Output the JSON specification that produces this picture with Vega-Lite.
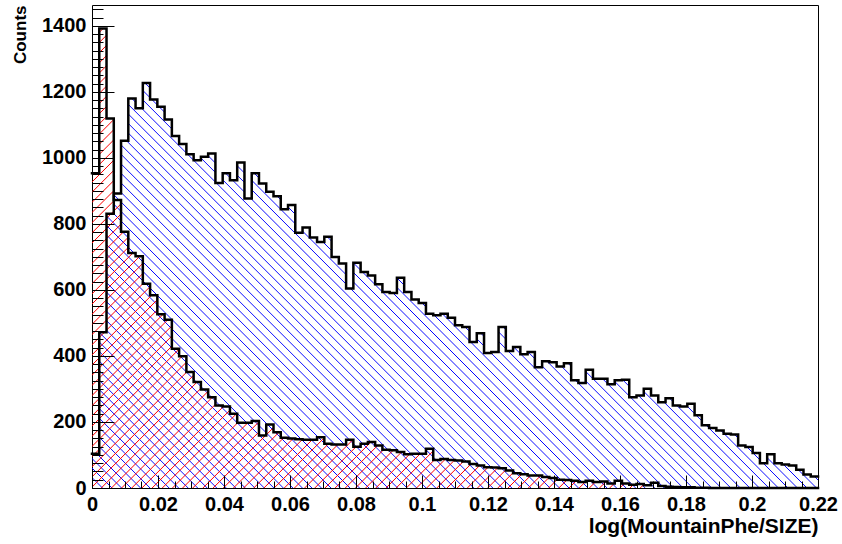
{
"$schema": "https://vega.github.io/schema/vega-lite/v6.json",
"width": 726, "height": 483,
"autosize": {"type": "none"},
"padding": {"left": 92, "top": 5, "right": 24, "bottom": 56},
"background": "white",
"config": {"view": {"stroke": "black", "strokeWidth": 1}},
"data": {"values": [
{"x":0,"blue":104,"red":953},{"x":0.0022,"blue":472,"red":1392},{"x":0.0044,"blue":831,"red":1119},{"x":0.0066,"blue":892,"red":872},{"x":0.0088,"blue":1052,"red":776},
{"x":0.011,"blue":1180,"red":712},{"x":0.0132,"blue":1150,"red":702},{"x":0.0154,"blue":1227,"red":619},{"x":0.0176,"blue":1177,"red":584},{"x":0.0198,"blue":1155,"red":526},
{"x":0.022,"blue":1116,"red":510},{"x":0.0242,"blue":1066,"red":422},{"x":0.0264,"blue":1042,"red":399},{"x":0.0286,"blue":1011,"red":351},{"x":0.0308,"blue":993,"red":321},
{"x":0.033,"blue":1003,"red":298},{"x":0.0352,"blue":1013,"red":275},{"x":0.0374,"blue":924,"red":250},{"x":0.0396,"blue":953,"red":247},{"x":0.0418,"blue":932,"red":225},
{"x":0.044,"blue":986,"red":198},{"x":0.0462,"blue":877,"red":198},{"x":0.0484,"blue":953,"red":203},{"x":0.0506,"blue":922,"red":159},{"x":0.0528,"blue":897,"red":192},
{"x":0.055,"blue":884,"red":169},{"x":0.0572,"blue":844,"red":152},{"x":0.0594,"blue":857,"red":150},{"x":0.0616,"blue":773,"red":148},{"x":0.0638,"blue":789,"red":146},
{"x":0.066,"blue":759,"red":146},{"x":0.0682,"blue":745,"red":154},{"x":0.0704,"blue":761,"red":134},{"x":0.0726,"blue":700,"red":132},{"x":0.0748,"blue":680,"red":132},
{"x":0.077,"blue":604,"red":146},{"x":0.0792,"blue":682,"red":125},{"x":0.0814,"blue":654,"red":134},{"x":0.0836,"blue":644,"red":139},{"x":0.0858,"blue":617,"red":129},
{"x":0.088,"blue":594,"red":116},{"x":0.0902,"blue":591,"red":114},{"x":0.0924,"blue":637,"red":109},{"x":0.0946,"blue":594,"red":102},{"x":0.0968,"blue":571,"red":104},
{"x":0.099,"blue":560,"red":104},{"x":0.1012,"blue":528,"red":119},{"x":0.1034,"blue":523,"red":85},{"x":0.1056,"blue":528,"red":88},{"x":0.1078,"blue":516,"red":85},
{"x":0.11,"blue":493,"red":83},{"x":0.1122,"blue":488,"red":80},{"x":0.1144,"blue":442,"red":73},{"x":0.1166,"blue":469,"red":68},{"x":0.1188,"blue":409,"red":63},
{"x":0.121,"blue":412,"red":62},{"x":0.1232,"blue":488,"red":60},{"x":0.1254,"blue":415,"red":53},{"x":0.1276,"blue":427,"red":45},{"x":0.1298,"blue":405,"red":42},
{"x":0.132,"blue":412,"red":38},{"x":0.1342,"blue":366,"red":38},{"x":0.1364,"blue":384,"red":33},{"x":0.1386,"blue":381,"red":30},{"x":0.1408,"blue":368,"red":25},
{"x":0.143,"blue":378,"red":24},{"x":0.1452,"blue":326,"red":22},{"x":0.1474,"blue":318,"red":18},{"x":0.1496,"blue":358,"red":22},{"x":0.1518,"blue":331,"red":18},
{"x":0.154,"blue":331,"red":20},{"x":0.1562,"blue":314,"red":14},{"x":0.1584,"blue":326,"red":22},{"x":0.1606,"blue":328,"red":14},{"x":0.1628,"blue":275,"red":10},
{"x":0.165,"blue":280,"red":12},{"x":0.1672,"blue":301,"red":8},{"x":0.1694,"blue":280,"red":16},{"x":0.1716,"blue":260,"red":6},{"x":0.1738,"blue":272,"red":4},
{"x":0.176,"blue":250,"red":3},{"x":0.1782,"blue":247,"red":2},{"x":0.1804,"blue":255,"red":2},{"x":0.1826,"blue":220,"red":1},{"x":0.1848,"blue":190,"red":1},
{"x":0.187,"blue":182,"red":0},{"x":0.1892,"blue":174,"red":0},{"x":0.1914,"blue":164,"red":0},{"x":0.1936,"blue":162,"red":0},{"x":0.1958,"blue":129,"red":0},
{"x":0.198,"blue":124,"red":0},{"x":0.2002,"blue":106,"red":0},{"x":0.2024,"blue":75,"red":0},{"x":0.2046,"blue":102,"red":0},{"x":0.2068,"blue":75,"red":0},
{"x":0.209,"blue":71,"red":0},{"x":0.2112,"blue":68,"red":0},{"x":0.2134,"blue":55,"red":0},{"x":0.2156,"blue":41,"red":0},{"x":0.2178,"blue":35,"red":0},
{"x":0.22,"blue":35,"red":0}
]},
"resolve": {"axis": {"x": "independent", "y": "independent"}},
"layer": [
{
"mark": {"type": "area", "interpolate": "step-after", "fill": {"gradient": "linear", "x1": 0, "y1": 1, "x2": 1, "y2": 0.442, "stops": [
{"offset":0,"color":"rgba(0,0,255,0)"},{"offset":0.001,"color":"#0000ff"},{"offset":0.002,"color":"rgba(0,0,255,0)"},
{"offset":0.01,"color":"rgba(0,0,255,0)"},{"offset":0.011,"color":"#0000ff"},{"offset":0.012,"color":"rgba(0,0,255,0)"},
{"offset":0.02,"color":"rgba(0,0,255,0)"},{"offset":0.021,"color":"#0000ff"},{"offset":0.022,"color":"rgba(0,0,255,0)"},
{"offset":0.03,"color":"rgba(0,0,255,0)"},{"offset":0.031,"color":"#0000ff"},{"offset":0.032,"color":"rgba(0,0,255,0)"},
{"offset":0.04,"color":"rgba(0,0,255,0)"},{"offset":0.041,"color":"#0000ff"},{"offset":0.042,"color":"rgba(0,0,255,0)"},
{"offset":0.05,"color":"rgba(0,0,255,0)"},{"offset":0.051,"color":"#0000ff"},{"offset":0.052,"color":"rgba(0,0,255,0)"},
{"offset":0.06,"color":"rgba(0,0,255,0)"},{"offset":0.061,"color":"#0000ff"},{"offset":0.062,"color":"rgba(0,0,255,0)"},
{"offset":0.07,"color":"rgba(0,0,255,0)"},{"offset":0.071,"color":"#0000ff"},{"offset":0.072,"color":"rgba(0,0,255,0)"},
{"offset":0.08,"color":"rgba(0,0,255,0)"},{"offset":0.081,"color":"#0000ff"},{"offset":0.082,"color":"rgba(0,0,255,0)"},
{"offset":0.09,"color":"rgba(0,0,255,0)"},{"offset":0.091,"color":"#0000ff"},{"offset":0.092,"color":"rgba(0,0,255,0)"},
{"offset":0.10,"color":"rgba(0,0,255,0)"},{"offset":0.101,"color":"#0000ff"},{"offset":0.102,"color":"rgba(0,0,255,0)"},
{"offset":0.11,"color":"rgba(0,0,255,0)"},{"offset":0.111,"color":"#0000ff"},{"offset":0.112,"color":"rgba(0,0,255,0)"},
{"offset":0.12,"color":"rgba(0,0,255,0)"},{"offset":0.121,"color":"#0000ff"},{"offset":0.122,"color":"rgba(0,0,255,0)"},
{"offset":0.13,"color":"rgba(0,0,255,0)"},{"offset":0.131,"color":"#0000ff"},{"offset":0.132,"color":"rgba(0,0,255,0)"},
{"offset":0.14,"color":"rgba(0,0,255,0)"},{"offset":0.141,"color":"#0000ff"},{"offset":0.142,"color":"rgba(0,0,255,0)"},
{"offset":0.15,"color":"rgba(0,0,255,0)"},{"offset":0.151,"color":"#0000ff"},{"offset":0.152,"color":"rgba(0,0,255,0)"},
{"offset":0.16,"color":"rgba(0,0,255,0)"},{"offset":0.161,"color":"#0000ff"},{"offset":0.162,"color":"rgba(0,0,255,0)"},
{"offset":0.17,"color":"rgba(0,0,255,0)"},{"offset":0.171,"color":"#0000ff"},{"offset":0.172,"color":"rgba(0,0,255,0)"},
{"offset":0.18,"color":"rgba(0,0,255,0)"},{"offset":0.181,"color":"#0000ff"},{"offset":0.182,"color":"rgba(0,0,255,0)"},
{"offset":0.19,"color":"rgba(0,0,255,0)"},{"offset":0.191,"color":"#0000ff"},{"offset":0.192,"color":"rgba(0,0,255,0)"},
{"offset":0.20,"color":"rgba(0,0,255,0)"},{"offset":0.201,"color":"#0000ff"},{"offset":0.202,"color":"rgba(0,0,255,0)"},
{"offset":0.21,"color":"rgba(0,0,255,0)"},{"offset":0.211,"color":"#0000ff"},{"offset":0.212,"color":"rgba(0,0,255,0)"},
{"offset":0.22,"color":"rgba(0,0,255,0)"},{"offset":0.221,"color":"#0000ff"},{"offset":0.222,"color":"rgba(0,0,255,0)"},
{"offset":0.23,"color":"rgba(0,0,255,0)"},{"offset":0.231,"color":"#0000ff"},{"offset":0.232,"color":"rgba(0,0,255,0)"},
{"offset":0.24,"color":"rgba(0,0,255,0)"},{"offset":0.241,"color":"#0000ff"},{"offset":0.242,"color":"rgba(0,0,255,0)"},
{"offset":0.25,"color":"rgba(0,0,255,0)"},{"offset":0.251,"color":"#0000ff"},{"offset":0.252,"color":"rgba(0,0,255,0)"},
{"offset":0.26,"color":"rgba(0,0,255,0)"},{"offset":0.261,"color":"#0000ff"},{"offset":0.262,"color":"rgba(0,0,255,0)"},
{"offset":0.27,"color":"rgba(0,0,255,0)"},{"offset":0.271,"color":"#0000ff"},{"offset":0.272,"color":"rgba(0,0,255,0)"},
{"offset":0.28,"color":"rgba(0,0,255,0)"},{"offset":0.281,"color":"#0000ff"},{"offset":0.282,"color":"rgba(0,0,255,0)"},
{"offset":0.29,"color":"rgba(0,0,255,0)"},{"offset":0.291,"color":"#0000ff"},{"offset":0.292,"color":"rgba(0,0,255,0)"},
{"offset":0.30,"color":"rgba(0,0,255,0)"},{"offset":0.301,"color":"#0000ff"},{"offset":0.302,"color":"rgba(0,0,255,0)"},
{"offset":0.31,"color":"rgba(0,0,255,0)"},{"offset":0.311,"color":"#0000ff"},{"offset":0.312,"color":"rgba(0,0,255,0)"},
{"offset":0.32,"color":"rgba(0,0,255,0)"},{"offset":0.321,"color":"#0000ff"},{"offset":0.322,"color":"rgba(0,0,255,0)"},
{"offset":0.33,"color":"rgba(0,0,255,0)"},{"offset":0.331,"color":"#0000ff"},{"offset":0.332,"color":"rgba(0,0,255,0)"},
{"offset":0.34,"color":"rgba(0,0,255,0)"},{"offset":0.341,"color":"#0000ff"},{"offset":0.342,"color":"rgba(0,0,255,0)"},
{"offset":0.35,"color":"rgba(0,0,255,0)"},{"offset":0.351,"color":"#0000ff"},{"offset":0.352,"color":"rgba(0,0,255,0)"},
{"offset":0.36,"color":"rgba(0,0,255,0)"},{"offset":0.361,"color":"#0000ff"},{"offset":0.362,"color":"rgba(0,0,255,0)"},
{"offset":0.37,"color":"rgba(0,0,255,0)"},{"offset":0.371,"color":"#0000ff"},{"offset":0.372,"color":"rgba(0,0,255,0)"},
{"offset":0.38,"color":"rgba(0,0,255,0)"},{"offset":0.381,"color":"#0000ff"},{"offset":0.382,"color":"rgba(0,0,255,0)"},
{"offset":0.39,"color":"rgba(0,0,255,0)"},{"offset":0.391,"color":"#0000ff"},{"offset":0.392,"color":"rgba(0,0,255,0)"},
{"offset":0.40,"color":"rgba(0,0,255,0)"},{"offset":0.401,"color":"#0000ff"},{"offset":0.402,"color":"rgba(0,0,255,0)"},
{"offset":0.41,"color":"rgba(0,0,255,0)"},{"offset":0.411,"color":"#0000ff"},{"offset":0.412,"color":"rgba(0,0,255,0)"},
{"offset":0.42,"color":"rgba(0,0,255,0)"},{"offset":0.421,"color":"#0000ff"},{"offset":0.422,"color":"rgba(0,0,255,0)"},
{"offset":0.43,"color":"rgba(0,0,255,0)"},{"offset":0.431,"color":"#0000ff"},{"offset":0.432,"color":"rgba(0,0,255,0)"},
{"offset":0.44,"color":"rgba(0,0,255,0)"},{"offset":0.441,"color":"#0000ff"},{"offset":0.442,"color":"rgba(0,0,255,0)"},
{"offset":0.45,"color":"rgba(0,0,255,0)"},{"offset":0.451,"color":"#0000ff"},{"offset":0.452,"color":"rgba(0,0,255,0)"},
{"offset":0.46,"color":"rgba(0,0,255,0)"},{"offset":0.461,"color":"#0000ff"},{"offset":0.462,"color":"rgba(0,0,255,0)"},
{"offset":0.47,"color":"rgba(0,0,255,0)"},{"offset":0.471,"color":"#0000ff"},{"offset":0.472,"color":"rgba(0,0,255,0)"},
{"offset":0.48,"color":"rgba(0,0,255,0)"},{"offset":0.481,"color":"#0000ff"},{"offset":0.482,"color":"rgba(0,0,255,0)"},
{"offset":0.49,"color":"rgba(0,0,255,0)"},{"offset":0.491,"color":"#0000ff"},{"offset":0.492,"color":"rgba(0,0,255,0)"},
{"offset":0.50,"color":"rgba(0,0,255,0)"},{"offset":0.501,"color":"#0000ff"},{"offset":0.502,"color":"rgba(0,0,255,0)"},
{"offset":0.51,"color":"rgba(0,0,255,0)"},{"offset":0.511,"color":"#0000ff"},{"offset":0.512,"color":"rgba(0,0,255,0)"},
{"offset":0.52,"color":"rgba(0,0,255,0)"},{"offset":0.521,"color":"#0000ff"},{"offset":0.522,"color":"rgba(0,0,255,0)"},
{"offset":0.53,"color":"rgba(0,0,255,0)"},{"offset":0.531,"color":"#0000ff"},{"offset":0.532,"color":"rgba(0,0,255,0)"},
{"offset":0.54,"color":"rgba(0,0,255,0)"},{"offset":0.541,"color":"#0000ff"},{"offset":0.542,"color":"rgba(0,0,255,0)"},
{"offset":0.55,"color":"rgba(0,0,255,0)"},{"offset":0.551,"color":"#0000ff"},{"offset":0.552,"color":"rgba(0,0,255,0)"},
{"offset":0.56,"color":"rgba(0,0,255,0)"},{"offset":0.561,"color":"#0000ff"},{"offset":0.562,"color":"rgba(0,0,255,0)"},
{"offset":0.57,"color":"rgba(0,0,255,0)"},{"offset":0.571,"color":"#0000ff"},{"offset":0.572,"color":"rgba(0,0,255,0)"},
{"offset":0.58,"color":"rgba(0,0,255,0)"},{"offset":0.581,"color":"#0000ff"},{"offset":0.582,"color":"rgba(0,0,255,0)"},
{"offset":0.59,"color":"rgba(0,0,255,0)"},{"offset":0.591,"color":"#0000ff"},{"offset":0.592,"color":"rgba(0,0,255,0)"},
{"offset":0.60,"color":"rgba(0,0,255,0)"},{"offset":0.601,"color":"#0000ff"},{"offset":0.602,"color":"rgba(0,0,255,0)"},
{"offset":0.61,"color":"rgba(0,0,255,0)"},{"offset":0.611,"color":"#0000ff"},{"offset":0.612,"color":"rgba(0,0,255,0)"},
{"offset":0.62,"color":"rgba(0,0,255,0)"},{"offset":0.621,"color":"#0000ff"},{"offset":0.622,"color":"rgba(0,0,255,0)"},
{"offset":0.63,"color":"rgba(0,0,255,0)"},{"offset":0.631,"color":"#0000ff"},{"offset":0.632,"color":"rgba(0,0,255,0)"},
{"offset":0.64,"color":"rgba(0,0,255,0)"},{"offset":0.641,"color":"#0000ff"},{"offset":0.642,"color":"rgba(0,0,255,0)"},
{"offset":0.65,"color":"rgba(0,0,255,0)"},{"offset":0.651,"color":"#0000ff"},{"offset":0.652,"color":"rgba(0,0,255,0)"},
{"offset":0.66,"color":"rgba(0,0,255,0)"},{"offset":0.661,"color":"#0000ff"},{"offset":0.662,"color":"rgba(0,0,255,0)"},
{"offset":0.67,"color":"rgba(0,0,255,0)"},{"offset":0.671,"color":"#0000ff"},{"offset":0.672,"color":"rgba(0,0,255,0)"},
{"offset":0.68,"color":"rgba(0,0,255,0)"},{"offset":0.681,"color":"#0000ff"},{"offset":0.682,"color":"rgba(0,0,255,0)"},
{"offset":0.69,"color":"rgba(0,0,255,0)"},{"offset":0.691,"color":"#0000ff"},{"offset":0.692,"color":"rgba(0,0,255,0)"},
{"offset":0.70,"color":"rgba(0,0,255,0)"},{"offset":0.701,"color":"#0000ff"},{"offset":0.702,"color":"rgba(0,0,255,0)"},
{"offset":0.71,"color":"rgba(0,0,255,0)"},{"offset":0.711,"color":"#0000ff"},{"offset":0.712,"color":"rgba(0,0,255,0)"},
{"offset":0.72,"color":"rgba(0,0,255,0)"},{"offset":0.721,"color":"#0000ff"},{"offset":0.722,"color":"rgba(0,0,255,0)"},
{"offset":0.73,"color":"rgba(0,0,255,0)"},{"offset":0.731,"color":"#0000ff"},{"offset":0.732,"color":"rgba(0,0,255,0)"},
{"offset":0.74,"color":"rgba(0,0,255,0)"},{"offset":0.741,"color":"#0000ff"},{"offset":0.742,"color":"rgba(0,0,255,0)"},
{"offset":0.75,"color":"rgba(0,0,255,0)"},{"offset":0.751,"color":"#0000ff"},{"offset":0.752,"color":"rgba(0,0,255,0)"},
{"offset":0.76,"color":"rgba(0,0,255,0)"},{"offset":0.761,"color":"#0000ff"},{"offset":0.762,"color":"rgba(0,0,255,0)"},
{"offset":0.77,"color":"rgba(0,0,255,0)"},{"offset":0.771,"color":"#0000ff"},{"offset":0.772,"color":"rgba(0,0,255,0)"},
{"offset":0.78,"color":"rgba(0,0,255,0)"},{"offset":0.781,"color":"#0000ff"},{"offset":0.782,"color":"rgba(0,0,255,0)"},
{"offset":0.79,"color":"rgba(0,0,255,0)"},{"offset":0.791,"color":"#0000ff"},{"offset":0.792,"color":"rgba(0,0,255,0)"}
]}},
"encoding": {
"x": {"field": "x", "type": "quantitative", "scale": {"domain": [0, 0.22], "nice": false, "zero": false},
 "axis": {"orient": "bottom", "values": [0,0.02,0.04,0.06,0.08,0.1,0.12,0.14,0.16,0.18,0.2,0.22], "format": "~g", "tickSize": -13, "tickColor": "black", "tickWidth": 1, "domain": false, "grid": false, "labelFont": "Liberation Sans", "labelFontWeight": "bold", "labelFontSize": 20, "labelColor": "black", "labelPadding": 19, "labelFlush": false, "labelOverlap": false, "labelBaseline": "top", "zindex": 1,
 "title": "log(MountainPhe/SIZE)", "titleFont": "Liberation Sans", "titleFontWeight": "bold", "titleFontSize": 21, "titleColor": "black", "titleX": 726, "titleY": 27, "titleAlign": "right", "titleBaseline": "top", "titleAnchor": null}},
"y": {"field": "blue", "type": "quantitative", "scale": {"domain": [0, 1463], "nice": false},
 "axis": {"orient": "left", "values": [0,200,400,600,800,1000,1200,1400], "format": "d", "tickSize": -22, "tickColor": "black", "tickWidth": 1, "domain": false, "grid": false, "labelFont": "Liberation Sans", "labelFontWeight": "bold", "labelFontSize": 20, "labelColor": "black", "labelPadding": 28, "labelOverlap": false, "labelFlush": false, "zindex": 1,
 "title": "Counts", "titleFont": "Liberation Sans", "titleFontWeight": "bold", "titleFontSize": 17, "titleColor": "black", "titleX": -72, "titleY": 0, "titleAngle": -90, "titleAlign": "right", "titleBaseline": "middle", "titleAnchor": null}}
}
},
{
"mark": {"type": "area", "interpolate": "step-after", "fill": {"gradient": "linear", "x1": 0, "y1": 0, "x2": 1, "y2": 0.633, "stops": [
{"offset":0,"color":"rgba(255,0,0,0)"},{"offset":0.001,"color":"#ff0000"},{"offset":0.002,"color":"rgba(255,0,0,0)"},
{"offset":0.01,"color":"rgba(255,0,0,0)"},{"offset":0.011,"color":"#ff0000"},{"offset":0.012,"color":"rgba(255,0,0,0)"},
{"offset":0.02,"color":"rgba(255,0,0,0)"},{"offset":0.021,"color":"#ff0000"},{"offset":0.022,"color":"rgba(255,0,0,0)"},
{"offset":0.03,"color":"rgba(255,0,0,0)"},{"offset":0.031,"color":"#ff0000"},{"offset":0.032,"color":"rgba(255,0,0,0)"},
{"offset":0.04,"color":"rgba(255,0,0,0)"},{"offset":0.041,"color":"#ff0000"},{"offset":0.042,"color":"rgba(255,0,0,0)"},
{"offset":0.05,"color":"rgba(255,0,0,0)"},{"offset":0.051,"color":"#ff0000"},{"offset":0.052,"color":"rgba(255,0,0,0)"},
{"offset":0.06,"color":"rgba(255,0,0,0)"},{"offset":0.061,"color":"#ff0000"},{"offset":0.062,"color":"rgba(255,0,0,0)"},
{"offset":0.07,"color":"rgba(255,0,0,0)"},{"offset":0.071,"color":"#ff0000"},{"offset":0.072,"color":"rgba(255,0,0,0)"},
{"offset":0.08,"color":"rgba(255,0,0,0)"},{"offset":0.081,"color":"#ff0000"},{"offset":0.082,"color":"rgba(255,0,0,0)"},
{"offset":0.09,"color":"rgba(255,0,0,0)"},{"offset":0.091,"color":"#ff0000"},{"offset":0.092,"color":"rgba(255,0,0,0)"},
{"offset":0.10,"color":"rgba(255,0,0,0)"},{"offset":0.101,"color":"#ff0000"},{"offset":0.102,"color":"rgba(255,0,0,0)"},
{"offset":0.11,"color":"rgba(255,0,0,0)"},{"offset":0.111,"color":"#ff0000"},{"offset":0.112,"color":"rgba(255,0,0,0)"},
{"offset":0.12,"color":"rgba(255,0,0,0)"},{"offset":0.121,"color":"#ff0000"},{"offset":0.122,"color":"rgba(255,0,0,0)"},
{"offset":0.13,"color":"rgba(255,0,0,0)"},{"offset":0.131,"color":"#ff0000"},{"offset":0.132,"color":"rgba(255,0,0,0)"},
{"offset":0.14,"color":"rgba(255,0,0,0)"},{"offset":0.141,"color":"#ff0000"},{"offset":0.142,"color":"rgba(255,0,0,0)"},
{"offset":0.15,"color":"rgba(255,0,0,0)"},{"offset":0.151,"color":"#ff0000"},{"offset":0.152,"color":"rgba(255,0,0,0)"},
{"offset":0.16,"color":"rgba(255,0,0,0)"},{"offset":0.161,"color":"#ff0000"},{"offset":0.162,"color":"rgba(255,0,0,0)"},
{"offset":0.17,"color":"rgba(255,0,0,0)"},{"offset":0.171,"color":"#ff0000"},{"offset":0.172,"color":"rgba(255,0,0,0)"},
{"offset":0.18,"color":"rgba(255,0,0,0)"},{"offset":0.181,"color":"#ff0000"},{"offset":0.182,"color":"rgba(255,0,0,0)"},
{"offset":0.19,"color":"rgba(255,0,0,0)"},{"offset":0.191,"color":"#ff0000"},{"offset":0.192,"color":"rgba(255,0,0,0)"},
{"offset":0.20,"color":"rgba(255,0,0,0)"},{"offset":0.201,"color":"#ff0000"},{"offset":0.202,"color":"rgba(255,0,0,0)"},
{"offset":0.21,"color":"rgba(255,0,0,0)"},{"offset":0.211,"color":"#ff0000"},{"offset":0.212,"color":"rgba(255,0,0,0)"},
{"offset":0.22,"color":"rgba(255,0,0,0)"},{"offset":0.221,"color":"#ff0000"},{"offset":0.222,"color":"rgba(255,0,0,0)"},
{"offset":0.23,"color":"rgba(255,0,0,0)"},{"offset":0.231,"color":"#ff0000"},{"offset":0.232,"color":"rgba(255,0,0,0)"},
{"offset":0.24,"color":"rgba(255,0,0,0)"},{"offset":0.241,"color":"#ff0000"},{"offset":0.242,"color":"rgba(255,0,0,0)"},
{"offset":0.25,"color":"rgba(255,0,0,0)"},{"offset":0.251,"color":"#ff0000"},{"offset":0.252,"color":"rgba(255,0,0,0)"},
{"offset":0.26,"color":"rgba(255,0,0,0)"},{"offset":0.261,"color":"#ff0000"},{"offset":0.262,"color":"rgba(255,0,0,0)"},
{"offset":0.27,"color":"rgba(255,0,0,0)"},{"offset":0.271,"color":"#ff0000"},{"offset":0.272,"color":"rgba(255,0,0,0)"},
{"offset":0.28,"color":"rgba(255,0,0,0)"},{"offset":0.281,"color":"#ff0000"},{"offset":0.282,"color":"rgba(255,0,0,0)"},
{"offset":0.29,"color":"rgba(255,0,0,0)"},{"offset":0.291,"color":"#ff0000"},{"offset":0.292,"color":"rgba(255,0,0,0)"},
{"offset":0.30,"color":"rgba(255,0,0,0)"},{"offset":0.301,"color":"#ff0000"},{"offset":0.302,"color":"rgba(255,0,0,0)"},
{"offset":0.31,"color":"rgba(255,0,0,0)"},{"offset":0.311,"color":"#ff0000"},{"offset":0.312,"color":"rgba(255,0,0,0)"},
{"offset":0.32,"color":"rgba(255,0,0,0)"},{"offset":0.321,"color":"#ff0000"},{"offset":0.322,"color":"rgba(255,0,0,0)"},
{"offset":0.33,"color":"rgba(255,0,0,0)"},{"offset":0.331,"color":"#ff0000"},{"offset":0.332,"color":"rgba(255,0,0,0)"},
{"offset":0.34,"color":"rgba(255,0,0,0)"},{"offset":0.341,"color":"#ff0000"},{"offset":0.342,"color":"rgba(255,0,0,0)"},
{"offset":0.35,"color":"rgba(255,0,0,0)"},{"offset":0.351,"color":"#ff0000"},{"offset":0.352,"color":"rgba(255,0,0,0)"},
{"offset":0.36,"color":"rgba(255,0,0,0)"},{"offset":0.361,"color":"#ff0000"},{"offset":0.362,"color":"rgba(255,0,0,0)"},
{"offset":0.37,"color":"rgba(255,0,0,0)"},{"offset":0.371,"color":"#ff0000"},{"offset":0.372,"color":"rgba(255,0,0,0)"},
{"offset":0.38,"color":"rgba(255,0,0,0)"},{"offset":0.381,"color":"#ff0000"},{"offset":0.382,"color":"rgba(255,0,0,0)"},
{"offset":0.39,"color":"rgba(255,0,0,0)"},{"offset":0.391,"color":"#ff0000"},{"offset":0.392,"color":"rgba(255,0,0,0)"},
{"offset":0.40,"color":"rgba(255,0,0,0)"},{"offset":0.401,"color":"#ff0000"},{"offset":0.402,"color":"rgba(255,0,0,0)"},
{"offset":0.41,"color":"rgba(255,0,0,0)"},{"offset":0.411,"color":"#ff0000"},{"offset":0.412,"color":"rgba(255,0,0,0)"},
{"offset":0.42,"color":"rgba(255,0,0,0)"},{"offset":0.421,"color":"#ff0000"},{"offset":0.422,"color":"rgba(255,0,0,0)"},
{"offset":0.43,"color":"rgba(255,0,0,0)"},{"offset":0.431,"color":"#ff0000"},{"offset":0.432,"color":"rgba(255,0,0,0)"},
{"offset":0.44,"color":"rgba(255,0,0,0)"},{"offset":0.441,"color":"#ff0000"},{"offset":0.442,"color":"rgba(255,0,0,0)"},
{"offset":0.45,"color":"rgba(255,0,0,0)"},{"offset":0.451,"color":"#ff0000"},{"offset":0.452,"color":"rgba(255,0,0,0)"},
{"offset":0.46,"color":"rgba(255,0,0,0)"},{"offset":0.461,"color":"#ff0000"},{"offset":0.462,"color":"rgba(255,0,0,0)"},
{"offset":0.47,"color":"rgba(255,0,0,0)"},{"offset":0.471,"color":"#ff0000"},{"offset":0.472,"color":"rgba(255,0,0,0)"},
{"offset":0.48,"color":"rgba(255,0,0,0)"},{"offset":0.481,"color":"#ff0000"},{"offset":0.482,"color":"rgba(255,0,0,0)"},
{"offset":0.49,"color":"rgba(255,0,0,0)"},{"offset":0.491,"color":"#ff0000"},{"offset":0.492,"color":"rgba(255,0,0,0)"},
{"offset":0.50,"color":"rgba(255,0,0,0)"},{"offset":0.501,"color":"#ff0000"},{"offset":0.502,"color":"rgba(255,0,0,0)"},
{"offset":0.51,"color":"rgba(255,0,0,0)"},{"offset":0.511,"color":"#ff0000"},{"offset":0.512,"color":"rgba(255,0,0,0)"},
{"offset":0.52,"color":"rgba(255,0,0,0)"},{"offset":0.521,"color":"#ff0000"},{"offset":0.522,"color":"rgba(255,0,0,0)"},
{"offset":0.53,"color":"rgba(255,0,0,0)"},{"offset":0.531,"color":"#ff0000"},{"offset":0.532,"color":"rgba(255,0,0,0)"},
{"offset":0.54,"color":"rgba(255,0,0,0)"},{"offset":0.541,"color":"#ff0000"},{"offset":0.542,"color":"rgba(255,0,0,0)"},
{"offset":0.55,"color":"rgba(255,0,0,0)"},{"offset":0.551,"color":"#ff0000"},{"offset":0.552,"color":"rgba(255,0,0,0)"},
{"offset":0.56,"color":"rgba(255,0,0,0)"},{"offset":0.561,"color":"#ff0000"},{"offset":0.562,"color":"rgba(255,0,0,0)"},
{"offset":0.57,"color":"rgba(255,0,0,0)"},{"offset":0.571,"color":"#ff0000"},{"offset":0.572,"color":"rgba(255,0,0,0)"},
{"offset":0.58,"color":"rgba(255,0,0,0)"},{"offset":0.581,"color":"#ff0000"},{"offset":0.582,"color":"rgba(255,0,0,0)"},
{"offset":0.59,"color":"rgba(255,0,0,0)"},{"offset":0.591,"color":"#ff0000"},{"offset":0.592,"color":"rgba(255,0,0,0)"},
{"offset":0.60,"color":"rgba(255,0,0,0)"},{"offset":0.601,"color":"#ff0000"},{"offset":0.602,"color":"rgba(255,0,0,0)"},
{"offset":0.61,"color":"rgba(255,0,0,0)"},{"offset":0.611,"color":"#ff0000"},{"offset":0.612,"color":"rgba(255,0,0,0)"},
{"offset":0.62,"color":"rgba(255,0,0,0)"},{"offset":0.621,"color":"#ff0000"},{"offset":0.622,"color":"rgba(255,0,0,0)"},
{"offset":0.63,"color":"rgba(255,0,0,0)"},{"offset":0.631,"color":"#ff0000"},{"offset":0.632,"color":"rgba(255,0,0,0)"},
{"offset":0.64,"color":"rgba(255,0,0,0)"},{"offset":0.641,"color":"#ff0000"},{"offset":0.642,"color":"rgba(255,0,0,0)"},
{"offset":0.65,"color":"rgba(255,0,0,0)"},{"offset":0.651,"color":"#ff0000"},{"offset":0.652,"color":"rgba(255,0,0,0)"},
{"offset":0.66,"color":"rgba(255,0,0,0)"},{"offset":0.661,"color":"#ff0000"},{"offset":0.662,"color":"rgba(255,0,0,0)"},
{"offset":0.67,"color":"rgba(255,0,0,0)"},{"offset":0.671,"color":"#ff0000"},{"offset":0.672,"color":"rgba(255,0,0,0)"},
{"offset":0.68,"color":"rgba(255,0,0,0)"},{"offset":0.681,"color":"#ff0000"},{"offset":0.682,"color":"rgba(255,0,0,0)"},
{"offset":0.69,"color":"rgba(255,0,0,0)"},{"offset":0.691,"color":"#ff0000"},{"offset":0.692,"color":"rgba(255,0,0,0)"},
{"offset":0.70,"color":"rgba(255,0,0,0)"},{"offset":0.701,"color":"#ff0000"},{"offset":0.702,"color":"rgba(255,0,0,0)"},
{"offset":0.71,"color":"rgba(255,0,0,0)"},{"offset":0.711,"color":"#ff0000"},{"offset":0.712,"color":"rgba(255,0,0,0)"},
{"offset":0.72,"color":"rgba(255,0,0,0)"},{"offset":0.721,"color":"#ff0000"},{"offset":0.722,"color":"rgba(255,0,0,0)"},
{"offset":0.73,"color":"rgba(255,0,0,0)"},{"offset":0.731,"color":"#ff0000"},{"offset":0.732,"color":"rgba(255,0,0,0)"},
{"offset":0.74,"color":"rgba(255,0,0,0)"},{"offset":0.741,"color":"#ff0000"},{"offset":0.742,"color":"rgba(255,0,0,0)"},
{"offset":0.75,"color":"rgba(255,0,0,0)"},{"offset":0.751,"color":"#ff0000"},{"offset":0.752,"color":"rgba(255,0,0,0)"},
{"offset":0.76,"color":"rgba(255,0,0,0)"},{"offset":0.761,"color":"#ff0000"},{"offset":0.762,"color":"rgba(255,0,0,0)"},
{"offset":0.77,"color":"rgba(255,0,0,0)"},{"offset":0.771,"color":"#ff0000"},{"offset":0.772,"color":"rgba(255,0,0,0)"},
{"offset":0.78,"color":"rgba(255,0,0,0)"},{"offset":0.781,"color":"#ff0000"},{"offset":0.782,"color":"rgba(255,0,0,0)"},
{"offset":0.79,"color":"rgba(255,0,0,0)"},{"offset":0.791,"color":"#ff0000"},{"offset":0.792,"color":"rgba(255,0,0,0)"},
{"offset":0.80,"color":"rgba(255,0,0,0)"},{"offset":0.801,"color":"#ff0000"},{"offset":0.802,"color":"rgba(255,0,0,0)"},
{"offset":0.81,"color":"rgba(255,0,0,0)"},{"offset":0.811,"color":"#ff0000"},{"offset":0.812,"color":"rgba(255,0,0,0)"},
{"offset":0.82,"color":"rgba(255,0,0,0)"},{"offset":0.821,"color":"#ff0000"},{"offset":0.822,"color":"rgba(255,0,0,0)"},
{"offset":0.83,"color":"rgba(255,0,0,0)"},{"offset":0.831,"color":"#ff0000"},{"offset":0.832,"color":"rgba(255,0,0,0)"},
{"offset":0.84,"color":"rgba(255,0,0,0)"},{"offset":0.841,"color":"#ff0000"},{"offset":0.842,"color":"rgba(255,0,0,0)"},
{"offset":0.85,"color":"rgba(255,0,0,0)"},{"offset":0.851,"color":"#ff0000"},{"offset":0.852,"color":"rgba(255,0,0,0)"},
{"offset":0.86,"color":"rgba(255,0,0,0)"},{"offset":0.861,"color":"#ff0000"},{"offset":0.862,"color":"rgba(255,0,0,0)"},
{"offset":0.87,"color":"rgba(255,0,0,0)"},{"offset":0.871,"color":"#ff0000"},{"offset":0.872,"color":"rgba(255,0,0,0)"},
{"offset":0.88,"color":"rgba(255,0,0,0)"},{"offset":0.881,"color":"#ff0000"},{"offset":0.882,"color":"rgba(255,0,0,0)"},
{"offset":0.89,"color":"rgba(255,0,0,0)"},{"offset":0.891,"color":"#ff0000"},{"offset":0.892,"color":"rgba(255,0,0,0)"},
{"offset":0.90,"color":"rgba(255,0,0,0)"},{"offset":0.901,"color":"#ff0000"},{"offset":0.902,"color":"rgba(255,0,0,0)"},
{"offset":0.91,"color":"rgba(255,0,0,0)"},{"offset":0.911,"color":"#ff0000"},{"offset":0.912,"color":"rgba(255,0,0,0)"},
{"offset":0.92,"color":"rgba(255,0,0,0)"},{"offset":0.921,"color":"#ff0000"},{"offset":0.922,"color":"rgba(255,0,0,0)"},
{"offset":0.93,"color":"rgba(255,0,0,0)"},{"offset":0.931,"color":"#ff0000"},{"offset":0.932,"color":"rgba(255,0,0,0)"},
{"offset":0.94,"color":"rgba(255,0,0,0)"},{"offset":0.941,"color":"#ff0000"},{"offset":0.942,"color":"rgba(255,0,0,0)"},
{"offset":0.95,"color":"rgba(255,0,0,0)"},{"offset":0.951,"color":"#ff0000"},{"offset":0.952,"color":"rgba(255,0,0,0)"},
{"offset":0.96,"color":"rgba(255,0,0,0)"},{"offset":0.961,"color":"#ff0000"},{"offset":0.962,"color":"rgba(255,0,0,0)"},
{"offset":0.97,"color":"rgba(255,0,0,0)"},{"offset":0.971,"color":"#ff0000"},{"offset":0.972,"color":"rgba(255,0,0,0)"},
{"offset":0.98,"color":"rgba(255,0,0,0)"},{"offset":0.981,"color":"#ff0000"},{"offset":0.982,"color":"rgba(255,0,0,0)"},
{"offset":0.99,"color":"rgba(255,0,0,0)"},{"offset":0.991,"color":"#ff0000"},{"offset":0.992,"color":"rgba(255,0,0,0)"}
]}},
"encoding": {
"x": {"field": "x", "type": "quantitative", "scale": {"domain": [0, 0.22], "nice": false, "zero": false},
 "axis": {"orient": "bottom", "values": [0,0.005,0.01,0.015,0.025,0.03,0.035,0.045,0.05,0.055,0.065,0.07,0.075,0.085,0.09,0.095,0.105,0.11,0.115,0.125,0.13,0.135,0.145,0.15,0.155,0.165,0.17,0.175,0.185,0.19,0.195,0.205,0.21,0.215], "tickSize": -7, "tickColor": "black", "tickWidth": 1, "domain": false, "grid": false, "labels": false, "title": null, "zindex": 1}},
"y": {"field": "red", "type": "quantitative", "scale": {"domain": [0, 1463], "nice": false},
 "axis": {"orient": "left", "values": [25,50,75,100,125,150,175,225,250,275,300,325,350,375,425,450,475,500,525,550,575,625,650,675,700,725,750,775,825,850,875,900,925,950,975,1025,1050,1075,1100,1125,1150,1175,1225,1250,1275,1300,1325,1350,1375,1425,1450], "tickSize": -11, "tickColor": "black", "tickWidth": 1, "domain": false, "grid": false, "labels": false, "title": null, "zindex": 1}}
}
},
{
"mark": {"type": "line", "interpolate": "step-after", "color": "black", "strokeWidth": 2.5, "strokeJoin": "miter", "strokeCap": "square"},
"encoding": {
"x": {"field": "x", "type": "quantitative", "scale": {"domain": [0, 0.22], "nice": false, "zero": false}, "axis": null},
"y": {"field": "blue", "type": "quantitative", "scale": {"domain": [0, 1463], "nice": false}, "axis": null}
}
},
{
"mark": {"type": "line", "interpolate": "step-after", "color": "black", "strokeWidth": 2.5, "strokeJoin": "miter", "strokeCap": "square"},
"encoding": {
"x": {"field": "x", "type": "quantitative", "scale": {"domain": [0, 0.22], "nice": false, "zero": false}, "axis": null},
"y": {"field": "red", "type": "quantitative", "scale": {"domain": [0, 1463], "nice": false}, "axis": null}
}
}
]
}
